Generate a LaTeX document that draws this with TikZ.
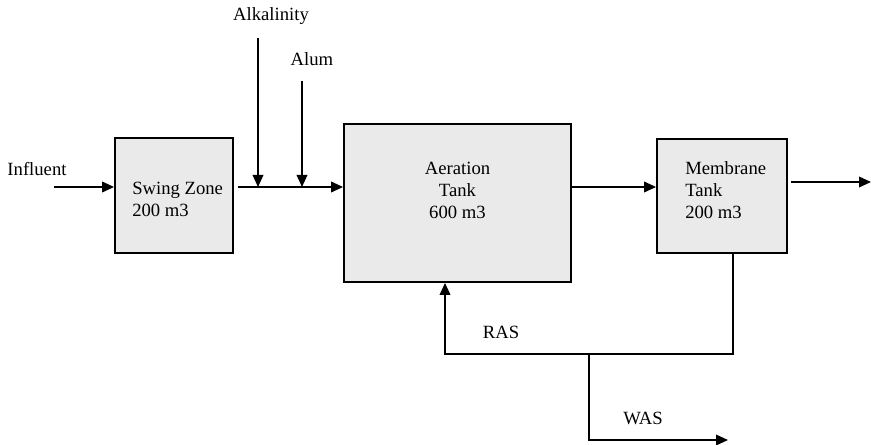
\documentclass[tikz,border=0pt]{standalone}
\usepackage{fontspec}
\setmainfont{Liberation Serif}
\usetikzlibrary{arrows.meta}
\definecolor{tankgray}{RGB}{234,234,234}

\begin{document}
\begin{tikzpicture}[x=0.75pt, y=-0.75pt, >={Triangle[length=9pt,width=8pt]},
    font=\fontsize{14}{16.5}\selectfont,
    tank/.style={draw,line width=1.4pt,fill=tankgray,inner sep=0pt},
    flow/.style={line width=1.1pt},
    tag/.style={inner sep=0pt,align=left}]

    \useasboundingbox (0,0) rectangle (871,445);

    % tanks
    \node[tank,minimum width=118*0.75pt,minimum height=115*0.75pt] (swing) at (174,195.5) {};
    \node[tank,minimum width=227*0.75pt,minimum height=158*0.75pt] (aer) at (457.5,203) {};
    \node[tank,minimum width=130*0.75pt,minimum height=114*0.75pt] (mem) at (722,196) {};

    \node[tag,anchor=west] (swingtxt) at (132,199.5) {Swing Zone\\200 m3};
    \node[tag,align=center] (aertxt) at (457.5,190) {Aeration\\Tank\\600 m3};
    \node[tag,anchor=west] (memtxt) at (685,190.5) {Membrane\\Tank\\200 m3};

    % labels
    \node[tag] (inf) at (37,169) {Influent};
    \node[tag] (alktxt) at (271,16) {Alkalinity};
    \node[tag] (alumtxt) at (312,59) {Alum};
    \node[tag] (ras) at (501,332) {RAS};
    \node[tag] (was) at (643,418) {WAS};

    \coordinate (in) at (54,187);
    \coordinate (alk) at (258,38);
    \coordinate (alum) at (302,81);
    \coordinate (out) at (871,182);
    \coordinate (rasr) at (733,354);
    \coordinate (split) at (589,354);
    \coordinate (wasend) at (728,440);

    \draw[flow,->] (in) -- (in -| swing.west);
    \draw[flow,->,shorten <=3pt] (in -| swing.east) -- (in -| aer.west);
    \draw[flow,->] (alk) -- (alk |- in);
    \draw[flow,->] (alum) -- (alum |- in);
    \draw[flow,->] (in -| aer.east) -- (in -| mem.west);
    \draw[flow,->,shorten <=2pt] (out -| mem.east) -- (out);
    \draw[flow,->] (mem.south -| rasr) -- (rasr) -- (rasr -| 445,0) -- (445,0 |- aer.south);
    \draw[flow,->] (split) -- (split |- wasend) -- (wasend);
  \end{tikzpicture}
\end{document}
